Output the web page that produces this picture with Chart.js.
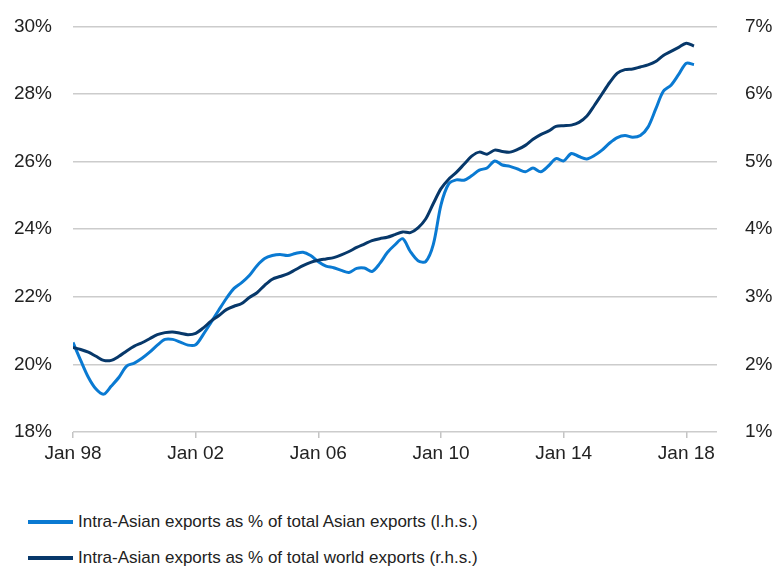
<!DOCTYPE html>
<html>
<head>
<meta charset="utf-8">
<script src="https://cdn.jsdelivr.net/npm/chart.js@4/dist/chart.umd.min.js"></script>
<style>
  body { margin: 0; background: #fff; }
  #wrap { position: relative; width: 781px; height: 568px; overflow: hidden; }
  #chart { position: absolute; left: 0; top: -6px; }
  #legend { position: absolute; left: 28px; top: 504px; font: 17px "Liberation Sans", Arial, sans-serif; color: #222; }
  .item { display: flex; align-items: center; height: 36px; }
  .swatch { width: 45px; height: 4px; margin-right: 5px; }
</style>
</head>
<body>
<div id="wrap">
  <canvas id="chart" width="781" height="476"></canvas>
  <div id="legend"></div>
</div>
<script>
// quarterly readings, first point = Jan 1998
const startYear = 1998;

// Intra-Asian exports as % of total Asian exports (l.h.s.)
const asianShare = [
  20.65, 20.12, 19.62, 19.27,
  19.12, 19.36, 19.62, 19.95,
  20.04, 20.18, 20.36, 20.57,
  20.74, 20.74, 20.66, 20.57,
  20.58, 20.89, 21.24, 21.60,
  21.95, 22.25, 22.42, 22.63,
  22.92, 23.13, 23.22, 23.25,
  23.22, 23.28, 23.32, 23.22,
  23.04, 22.91, 22.86, 22.78,
  22.72, 22.84, 22.85, 22.75,
  22.98, 23.31, 23.54, 23.72,
  23.34, 23.07, 23.04, 23.55,
  24.72, 25.34, 25.46, 25.45,
  25.58, 25.75, 25.81, 26.02,
  25.90, 25.86, 25.78, 25.70,
  25.81, 25.70, 25.87, 26.09,
  26.02, 26.24, 26.15, 26.08,
  26.18, 26.34, 26.55, 26.71,
  26.77, 26.72, 26.77, 27.02,
  27.55, 28.08, 28.26, 28.58,
  28.91, 28.87
];

// Intra-Asian exports as % of total world exports (r.h.s.)
const worldShare = [
  2.25, 2.22, 2.18, 2.12,
  2.06, 2.06, 2.12, 2.20,
  2.27, 2.32, 2.38, 2.44,
  2.47, 2.48, 2.46, 2.44,
  2.46, 2.54, 2.64, 2.72,
  2.81, 2.86, 2.90, 2.99,
  3.06, 3.17, 3.26, 3.30,
  3.34, 3.40, 3.46, 3.51,
  3.54, 3.56, 3.58, 3.62,
  3.67, 3.73, 3.78, 3.83,
  3.86, 3.88, 3.92, 3.96,
  3.95, 4.02, 4.15, 4.38,
  4.60, 4.74, 4.84, 4.96,
  5.08, 5.14, 5.11, 5.17,
  5.15, 5.14, 5.18, 5.24,
  5.33, 5.40, 5.45, 5.52,
  5.53, 5.54, 5.58, 5.67,
  5.83, 6.00, 6.17, 6.31,
  6.36, 6.37, 6.40, 6.43,
  6.48, 6.57, 6.63, 6.69,
  6.75, 6.71
];

const yearTicks = [1998, 2002, 2006, 2010, 2014, 2018];
const yearLabels = ['Jan 98', 'Jan 02', 'Jan 06', 'Jan 10', 'Jan 14', 'Jan 18'];

const seriesNames = [
  'Intra-Asian exports as % of total Asian exports (l.h.s.)',
  'Intra-Asian exports as % of total world exports (r.h.s.)'
];
const LIGHT = '#0a7ad2';
const DARK = '#07386a';

const toPoints = arr => arr.map((v, i) => ({ x: startYear + i / 4, y: v }));

const font = { family: '"Liberation Sans", Arial, sans-serif', size: 19 };

new Chart(document.getElementById('chart'), {
  type: 'line',
  data: {
    datasets: [
      { label: seriesNames[1], data: toPoints(worldShare), yAxisID: 'yR', borderColor: DARK, borderWidth: 3, pointRadius: 0, tension: 0.3 },
      { label: seriesNames[0], data: toPoints(asianShare), yAxisID: 'yL', borderColor: LIGHT, borderWidth: 3, pointRadius: 0, tension: 0.3 }
    ]
  },
  options: {
    responsive: false,
    animation: false,
    layout: { padding: { top: 0, left: 0, right: 0, bottom: 0 } },
    plugins: { legend: { display: false }, tooltip: { enabled: false } },
    scales: {
      x: {
        type: 'linear',
        min: 1998,
        max: 2019,
        afterBuildTicks: s => { s.ticks = yearTicks.map(v => ({ value: v })); },
        afterFit: s => { s.height = 38; },
        border: { display: false },
        grid: { drawOnChartArea: false, drawTicks: true, tickLength: 6, color: '#c4c4c4', lineWidth: 1.5 },
        ticks: {
          font, color: '#222', padding: 4, maxRotation: 0,
          callback: v => yearLabels[yearTicks.indexOf(v)]
        }
      },
      yL: {
        position: 'left',
        min: 18, max: 30,
        afterFit: s => { s.width = 73; },
        border: { display: false },
        grid: { drawTicks: false, color: '#cccccc', lineWidth: 1.5 },
        ticks: { stepSize: 2, font, color: '#222', padding: 21, callback: v => v + '%' }
      },
      yR: {
        position: 'right',
        min: 1, max: 7,
        afterFit: s => { s.width = 64; },
        border: { display: false },
        grid: { display: false },
        ticks: { stepSize: 1, font, color: '#222', padding: 20, callback: v => v + '%' }
      }
    }
  }
});

// legend below the chart
const legend = document.getElementById('legend');
[[LIGHT, seriesNames[0]], [DARK, seriesNames[1]]].forEach(([c, t]) => {
  const row = document.createElement('div');
  row.className = 'item';
  row.innerHTML = '<span class="swatch" style="background:' + c + '"></span><span>' + t + '</span>';
  legend.appendChild(row);
});
</script>
</body>
</html>
